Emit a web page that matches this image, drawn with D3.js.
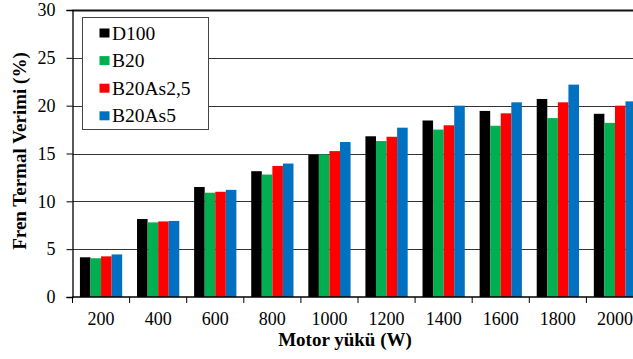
<!DOCTYPE html>
<html>
<head>
<meta charset="utf-8">
<script src="https://cdn.jsdelivr.net/npm/d3@7"></script>
<style>
  html, body { margin: 0; padding: 0; background: #fff; }
  svg { display: block; font-family: "Liberation Serif", "Times New Roman", serif; }
</style>
</head>
<body>
<svg id="chart" width="633" height="359"></svg>
<script>
// Motor load categories (W)
const loads = ["200", "400", "600", "800", "1000", "1200", "1400", "1600", "1800", "2000"];
// Fuel blends shown in the legend
const fuels = ["D100", "B20", "B20As2,5", "B20As5"];
const fuelColors = ["#000000", "#00b050", "#ff0000", "#0070c0"];
// Brake thermal efficiency (%) per fuel, one value per load
const d100     = [4.15, 8.15, 11.5, 13.15, 14.85, 16.8, 18.45, 19.45, 20.7, 19.15];
const b20      = [4.05, 7.8, 10.9, 12.8, 14.9, 16.3, 17.5, 17.9, 18.7, 18.2];
const b20as25  = [4.25, 7.9, 11.0, 13.7, 15.25, 16.75, 17.95, 19.2, 20.35, 20.0];
const b20as5   = [4.45, 7.95, 11.2, 13.95, 16.2, 17.7, 20.0, 20.35, 22.2, 20.45];
const yTicks = [0, 5, 10, 15, 20, 25, 30];

const seriesValues = [d100, b20, b20as25, b20as5];

const svg = d3.select("#chart");
const plotLeft = 72.5, plotRight = 643.5, plotTop = 10, plotBottom = 297;

const x0 = d3.scaleBand().domain(loads).range([plotLeft, plotRight])
  .paddingInner(0.26).paddingOuter(0.13);
const x1 = d3.scaleBand().domain(fuels).range([0, x0.bandwidth()]);
const y = d3.scaleLinear().domain([0, 30]).range([plotBottom, plotTop]);

// horizontal gridlines
svg.append("g").selectAll("line").data(yTicks.filter(d => d > 0)).join("line")
  .attr("x1", plotLeft).attr("x2", 633)
  .attr("y1", d => Math.round(y(d)) + 0.5).attr("y2", d => Math.round(y(d)) + 0.5)
  .attr("stroke", d => d === 30 ? "#111" : "#333")
  .attr("stroke-width", d => d === 30 ? 2 : 1);

// bars
const groups = svg.append("g").selectAll("g").data(loads).join("g")
  .attr("transform", d => `translate(${x0(d)},0)`);
groups.selectAll("rect")
  .data((d, i) => fuels.map((f, k) => ({ fuel: f, value: seriesValues[k][i], color: fuelColors[k] })))
  .join("rect")
  .attr("x", d => x1(d.fuel))
  .attr("width", x1.bandwidth())
  .attr("y", d => y(d.value))
  .attr("height", d => y(0) - y(d.value))
  .attr("fill", d => d.color);

// y axis
const yAxis = svg.append("g").attr("transform", `translate(${plotLeft},0)`)
  .call(d3.axisLeft(y).tickValues(yTicks).tickSize(6).tickPadding(11).tickFormat(d3.format("d")));
yAxis.select(".domain").attr("stroke", "#000").attr("stroke-width", 1.3);
yAxis.selectAll(".tick line").attr("stroke", "#000");
yAxis.selectAll("text").attr("font-size", 18).attr("fill", "#000")
  .attr("font-family", "Liberation Serif, serif");

// x axis: ticks at the category boundaries
const step = x0.step();
const xAxis = svg.append("g").attr("transform", `translate(0,${plotBottom})`);
xAxis.append("line").attr("x1", plotLeft).attr("x2", 633).attr("y1", 0).attr("y2", 0)
  .attr("stroke", "#000").attr("stroke-width", 1.3);
xAxis.selectAll("line.tick").data(loads).join("line").attr("class", "tick")
  .attr("x1", d => x0(d) - (step - x0.bandwidth()) / 2)
  .attr("x2", d => x0(d) - (step - x0.bandwidth()) / 2)
  .attr("y1", 0).attr("y2", 6).attr("stroke", "#000");
xAxis.selectAll("text").data(loads).join("text")
  .attr("x", d => x0(d) + x0.bandwidth() / 2)
  .attr("y", 28)
  .attr("text-anchor", "middle")
  .attr("font-size", 18)
  .text(d => d);

// axis titles
svg.append("text")
  .attr("x", 345).attr("y", 346)
  .attr("text-anchor", "middle").attr("font-size", 19).attr("font-weight", "bold")
  .text("Motor yükü (W)");
svg.append("text")
  .attr("transform", "translate(26,151) rotate(-90)")
  .attr("text-anchor", "middle").attr("font-size", 19).attr("font-weight", "bold")
  .text("Fren Termal Verimi (%)");

// legend
const legend = svg.append("g");
legend.append("rect").attr("x", 82.5).attr("y", 17.5).attr("width", 126).attr("height", 112)
  .attr("fill", "#fff").attr("stroke", "#444").attr("stroke-width", 1);
const items = legend.selectAll("g.item").data(fuels).join("g").attr("class", "item")
  .attr("transform", (d, i) => `translate(0,${33 + i * 27.6})`);
items.append("rect").attr("x", 99.5).attr("y", -4.5).attr("width", 10).attr("height", 9)
  .attr("fill", (d, i) => fuelColors[i]);
items.append("text").attr("x", 112).attr("y", 6.5).attr("font-size", 19.5).text(d => d);
</script>
</body>
</html>
